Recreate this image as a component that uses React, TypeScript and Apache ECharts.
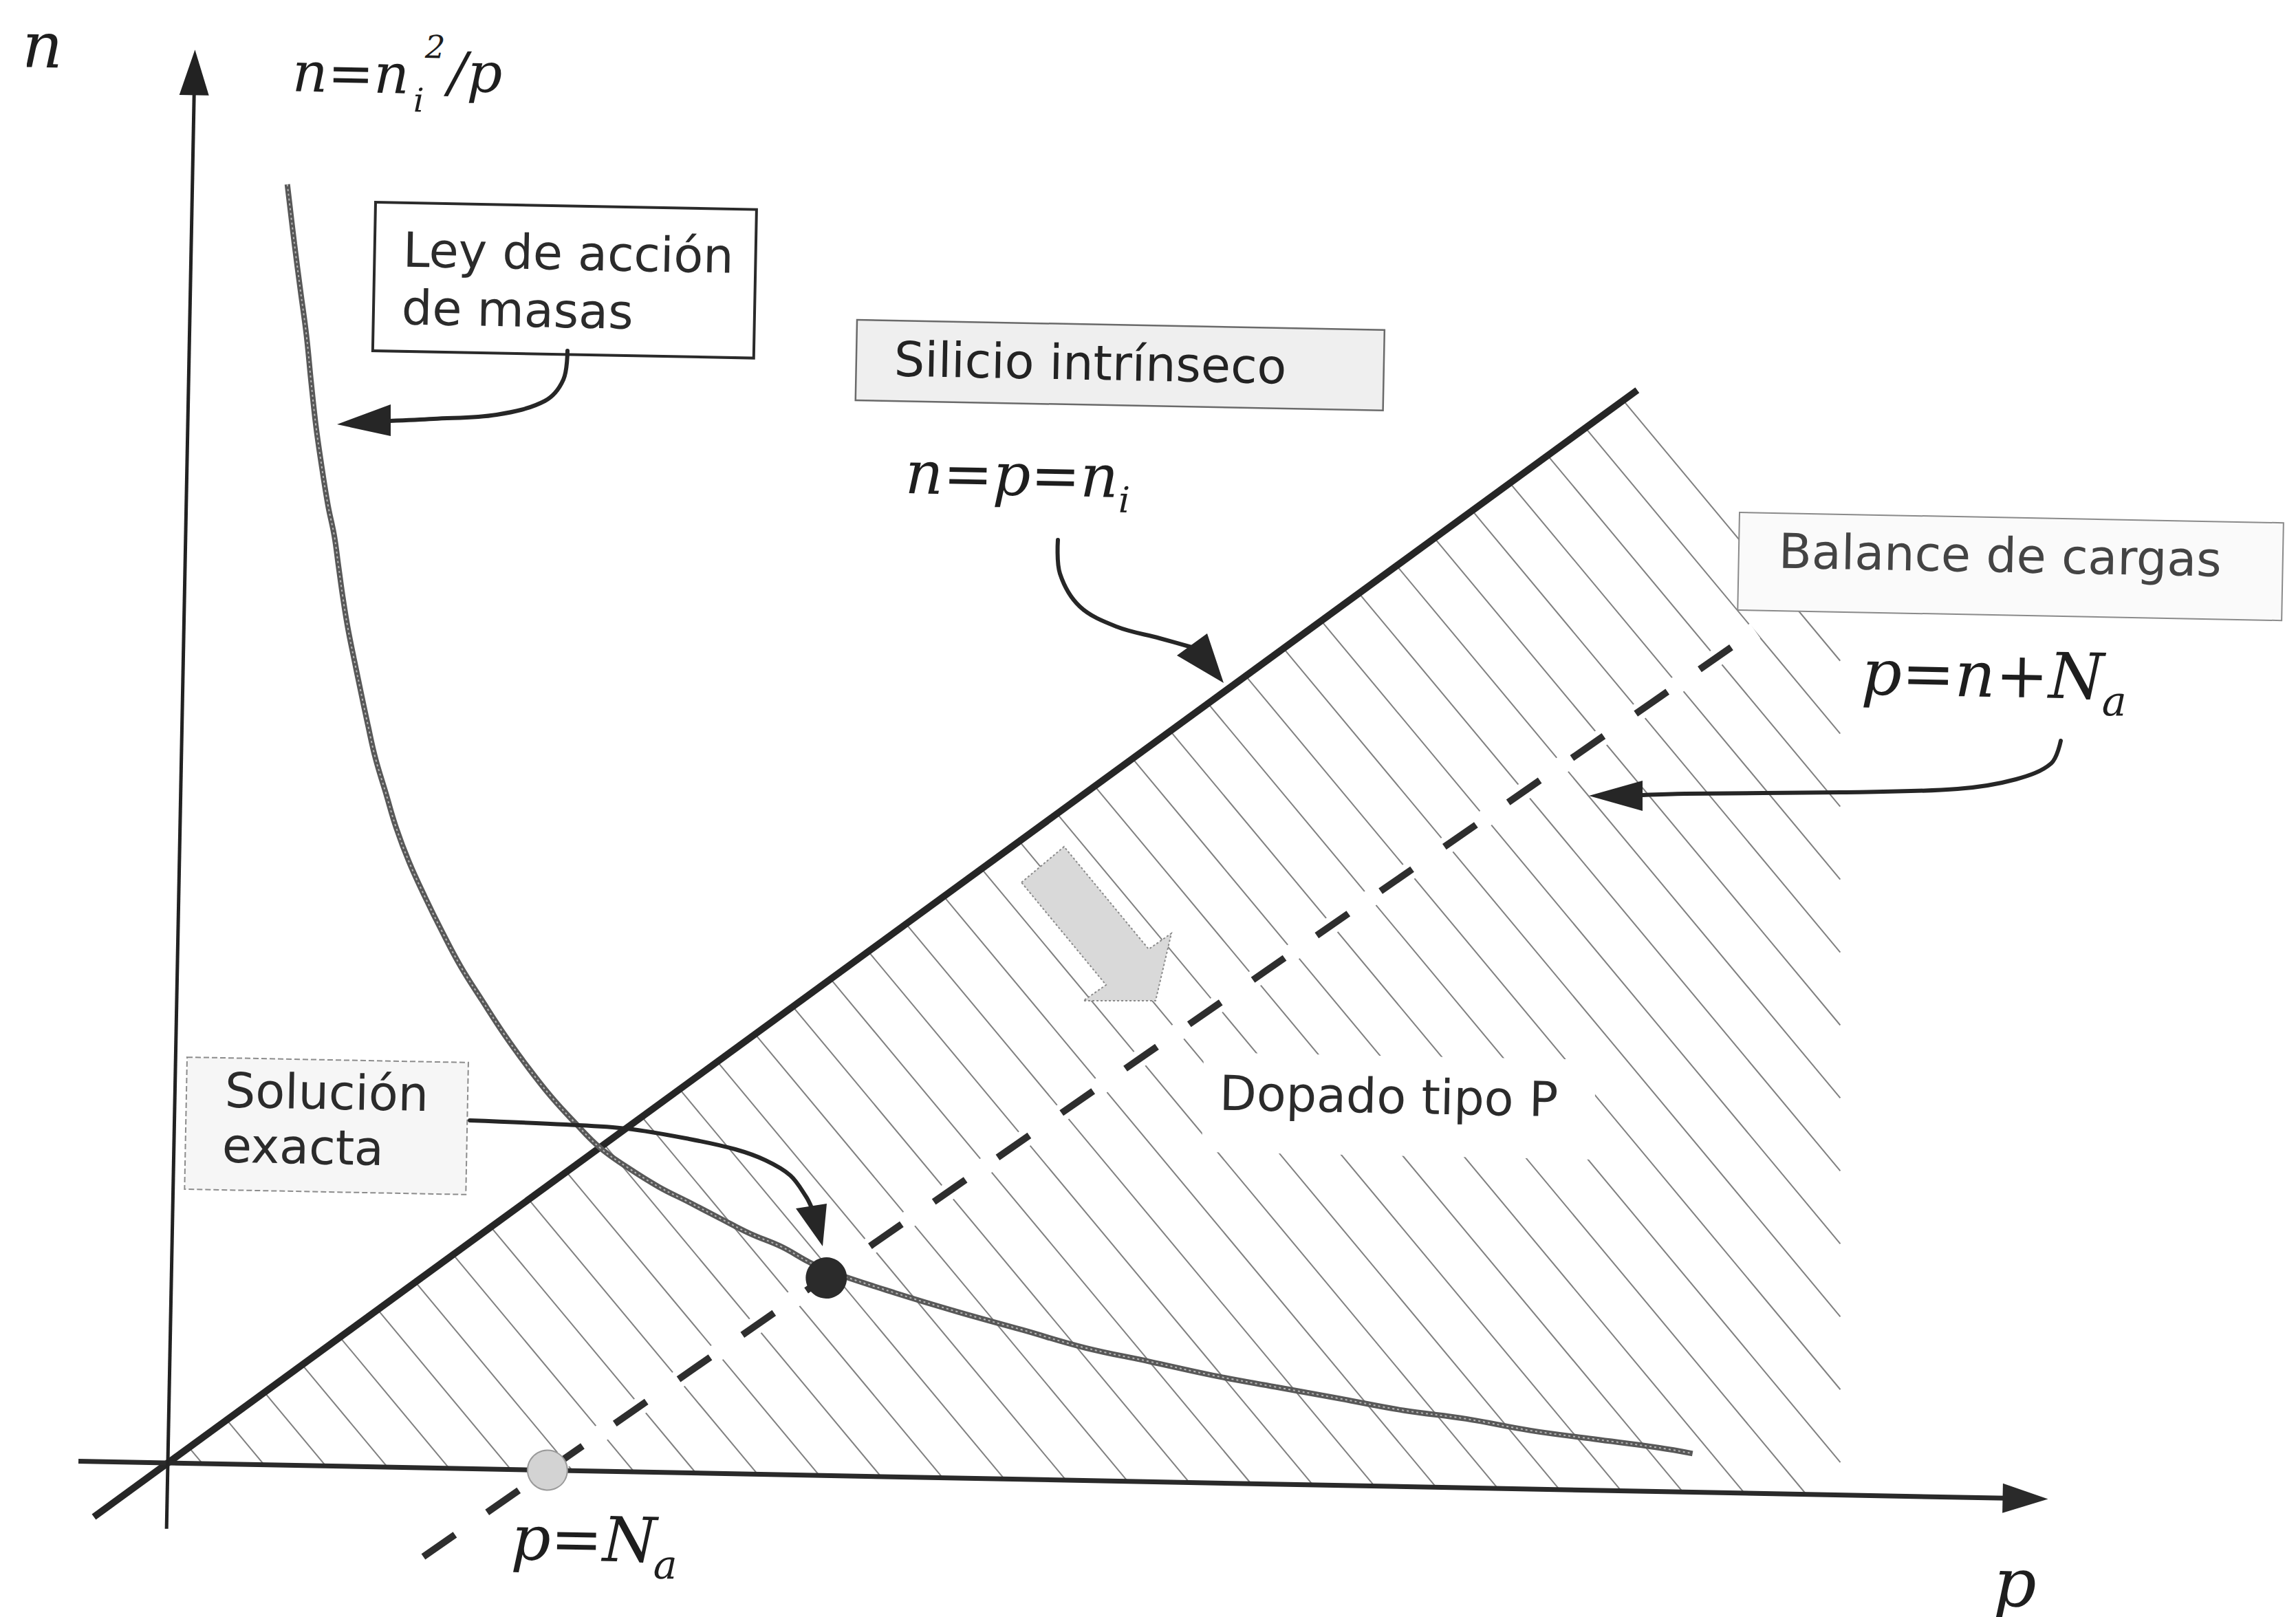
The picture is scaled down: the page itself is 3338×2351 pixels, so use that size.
import React, { useEffect, useRef } from 'react';
import * as echarts from 'echarts';

// ---- page and plane geometry -------------------------------------------
const W = 3338;
const H = 2351;
// where (p, n) = (0, 0) sits on the page, and how far the figure is turned
const OX = 244;
const OY = 2127;
const TILT_DEG = 1.1;
// pixels per unit on each axis (n = p runs at the drawn slope)
const PX_P = 200;
const PX_N = 152;
const X_MIN = -1.2;
const X_MAX = 15.4;
const Y_MIN = -1.4;
const Y_MAX = 13.9;

// ---- data ------------------------------------------------------------------
// mass-action law n = ni^2 / p
const MASS_ACTION_P = [
  0.69, 0.75, 0.8, 0.85, 0.89, 0.93, 0.97, 1.03, 1.08, 1.115, 1.15, 1.19, 1.24,
  1.29, 1.35, 1.41, 1.49, 1.57, 1.67, 1.79, 1.92, 2.06, 2.22, 2.38, 2.55, 2.73,
  2.91, 3.1, 3.3, 3.53, 3.75, 3.98, 4.2, 4.43, 4.63, 4.77, 5.26, 5.72, 6.19,
  6.65, 7.12, 7.58, 8.04, 8.51, 8.97, 9.43, 9.9, 10.36, 10.83, 11.08,
];
const MASS_ACTION_N = [
  12.25, 11.68, 11.24, 10.81, 10.37, 9.96, 9.63, 9.19, 8.9, 8.61, 8.32, 8.03,
  7.73, 7.44, 7.1, 6.78, 6.45, 6.12, 5.79, 5.46, 5.13, 4.8, 4.48, 4.17, 3.87,
  3.58, 3.33, 3.09, 2.91, 2.73, 2.59, 2.44, 2.3, 2.18, 2.04, 1.96, 1.76, 1.59,
  1.43, 1.27, 1.15, 1.03, 0.93, 0.83, 0.73, 0.66, 0.56, 0.49, 0.42, 0.37,
];
// intrinsic silicon n = p (end points on p)
const INTRINSIC_P = [-0.53, 10.53];
// charge balance p = n + Na (end points)
const BALANCE_P = [1.87, 11.42];
const BALANCE_N = [-0.85, 8.25];
// acceptor concentration: where the balance line meets n = 0
const NA = 2.76;
// exact solution: crossing of the mass-action curve and the balance line
const SOLUTION_P = 4.76;
const SOLUTION_N = 1.89;
// p-type doped region (hatched), corners
const DOPED_P = [0, 10.53, 12.04, 12.16];
const DOPED_N = [0, 10.53, 8.12, 0];
// axes extents: p from .. to (arrow tip), n from .. to (arrow tip)
const AXIS_P = [-0.65, 13.67];
const AXIS_N = [-0.63, 13.52];

// ---- styling constants -------------------------------------------------
const SANS = '"DejaVu Sans", Verdana, sans-serif';
const SERIF = '"DejaVu Serif", serif';
const INK = '#262626';
const ARROW_W = 43;
const ARROW_L = 66;
const HATCH_ANGLE = (49.1 * Math.PI) / 180;
const HATCH_GAP = 67.8;
const HATCH_ANCHOR = [0.7, 0];

const T = (TILT_DEG * Math.PI) / 180;
const COS = Math.cos(T);
const SIN = Math.sin(T);

// page point -> point inside the turned chart frame
function pg(x: number, y: number): [number, number] {
  const dx = x - OX;
  const dy = y - OY;
  return [OX + COS * dx + SIN * dy, OY - SIN * dx + COS * dy];
}

function label(
  x: number,
  base: number,
  text: string,
  size: number,
  family: string,
  italic: boolean,
  fill: string
) {
  const [px, py] = pg(x, base - 0.35 * size);
  return {
    type: 'text',
    x: px,
    y: py,
    z: 30,
    silent: true,
    style: {
      text,
      fontSize: size,
      fontFamily: family,
      fontStyle: italic ? 'italic' : 'normal',
      fill,
      align: 'left',
      verticalAlign: 'middle',
      textAlign: 'left',
      textVerticalAlign: 'middle',
    },
  };
}

function box(x1: number, y1: number, x2: number, y2: number, style: any, z = 20) {
  const [px, py] = pg(x1, y1);
  return {
    type: 'rect',
    x: px,
    y: py,
    z,
    silent: true,
    shape: { x: 0, y: 0, width: x2 - x1, height: y2 - y1 },
    style,
  };
}

function stroke(points: number[][], width = 6) {
  return {
    type: 'polyline',
    z: 25,
    silent: true,
    shape: { points: points.map(([x, y]) => pg(x, y)), smooth: 0.35 },
    style: { stroke: INK, lineWidth: width, fill: null, lineCap: 'round' },
  };
}

function shape(points: number[][], style: any, z = 25) {
  return {
    type: 'polygon',
    z,
    silent: true,
    shape: { points: points.map(([x, y]) => pg(x, y)) },
    style,
  };
}

// diagonal hatching clipped to the doped region
function renderHatch(_params: any, api: any) {
  const poly = DOPED_P.map((p, i) => api.coord([p, DOPED_N[i]]));
  const anchor = api.coord(HATCH_ANCHOR);
  const d = [Math.cos(HATCH_ANGLE), Math.sin(HATCH_ANGLE)];
  const nrm = [-d[1], d[0]];
  const children: any[] = [];
  for (let k = -90; k <= 90; k++) {
    const p0 = [anchor[0] + nrm[0] * k * HATCH_GAP, anchor[1] + nrm[1] * k * HATCH_GAP];
    const ts: number[] = [];
    for (let i = 0; i < poly.length; i++) {
      const a = poly[i];
      const b = poly[(i + 1) % poly.length];
      const e = [b[0] - a[0], b[1] - a[1]];
      const den = d[0] * e[1] - d[1] * e[0];
      if (Math.abs(den) < 1e-9) continue;
      const w = [a[0] - p0[0], a[1] - p0[1]];
      const t = (w[0] * e[1] - w[1] * e[0]) / den;
      const u = (w[0] * d[1] - w[1] * d[0]) / den;
      if (u >= -1e-9 && u <= 1 + 1e-9) ts.push(t);
    }
    if (ts.length < 2) continue;
    const t0 = Math.min(...ts);
    const t1 = Math.max(...ts);
    if (t1 - t0 < 2) continue;
    children.push({
      type: 'line',
      shape: {
        x1: p0[0] + d[0] * t0,
        y1: p0[1] + d[1] * t0,
        x2: p0[0] + d[0] * t1,
        y2: p0[1] + d[1] * t1,
      },
      style: { stroke: '#808080', lineWidth: 2 },
    });
  }
  return { type: 'group', children };
}

function buildOption() {
  const curve = MASS_ACTION_P.map((p, i) => [p, MASS_ACTION_N[i]]);
  const balance = BALANCE_P.map((p, i) => [p, BALANCE_N[i]]);
  const intrinsic = INTRINSIC_P.map((p) => [p, p]);
  const pArrow = AXIS_P[1] - ARROW_L / 2 / PX_P;
  const nArrow = AXIS_N[1] - ARROW_L / 2 / PX_N;

  const graphics: any[] = [
    // axis names
    label(32, 98, 'n', 92, SERIF, true, '#1e1e1e'),
    label(2898, 2335, 'p', 98, SERIF, true, '#1e1e1e'),

    // n = ni^2 / p
    label(425, 133, 'n=n', 80, SERIF, true, '#1e1e1e'),
    label(601, 162, 'i', 48, SERIF, true, '#1e1e1e'),
    label(618, 84, '2', 46, SERIF, true, '#1e1e1e'),
    label(652, 133, '/p', 80, SERIF, true, '#1e1e1e'),

    // mass-action box and its pointer
    box(546, 294, 1100, 510, { fill: '#ffffff', stroke: '#2a2a2a', lineWidth: 4 }),
    label(586, 388, 'Ley de acción', 70, SANS, false, '#2b2b2b'),
    label(584, 472, 'de masas', 70, SANS, false, '#2b2b2b'),
    stroke([[825, 510], [819, 552], [792, 583], [722, 603], [630, 609], [566, 612]]),
    shape([[490, 617], [568, 588], [568, 634]], { fill: INK }),

    // intrinsic silicon
    box(1246, 465, 2013, 582, { fill: '#efefef', stroke: '#6a6a6a', lineWidth: 2.5 }),
    label(1300, 547, 'Silicio intrínseco', 70, SANS, false, '#232323'),
    label(1316, 717, 'n=p=n', 86, SERIF, true, '#1e1e1e'),
    label(1626, 745, 'i', 52, SERIF, true, '#1e1e1e'),
    stroke([[1538, 785], [1541, 834], [1570, 882], [1623, 911], [1686, 928], [1736, 942]]),
    shape([[1779, 993], [1711, 953], [1755, 921]], { fill: INK }),

    // charge balance
    box(2529, 745, 3320, 887, { fill: '#fafafa', stroke: '#8a8a8a', lineWidth: 2 }),
    label(2586, 826, 'Balance de cargas', 70, SANS, false, '#444444'),
    label(2706, 1010, 'p=n+N', 92, SERIF, true, '#1e1e1e'),
    label(3056, 1040, 'a', 60, SERIF, true, '#1e1e1e'),
    stroke([[2996, 1077], [2982, 1110], [2931, 1133], [2846, 1147], [2676, 1152], [2450, 1154], [2388, 1156]]),
    shape([[2310, 1157], [2388, 1135], [2388, 1179]], { fill: INK }),

    // p-type doping
    box(1750, 1530, 2320, 1675, { fill: '#ffffff' }, 12),
    label(1773, 1614, 'Dopado tipo P', 70, SANS, false, '#2b2b2b'),
    shape(
      [[1485, 1283], [1547, 1231], [1670, 1380], [1703, 1357], [1680, 1455], [1575, 1455], [1608, 1432]],
      { fill: '#d9d9d9', stroke: '#8a8a8a', lineWidth: 2, lineDash: [3, 3] },
      14
    ),

    // exact solution
    box(272, 1537, 681, 1729, { fill: '#f6f6f6', stroke: '#8c8c8c', lineWidth: 2, lineDash: [8, 4] }),
    label(327, 1610, 'Solución', 70, SANS, false, '#2b2b2b'),
    label(323, 1690, 'exacta', 70, SANS, false, '#2b2b2b'),
    stroke([[683, 1629], [823, 1635], [912, 1641], [1002, 1656], [1069, 1671], [1113, 1687], [1149, 1709], [1172, 1740], [1180, 1756]]),
    shape([[1196, 1812], [1157, 1757], [1202, 1750]], { fill: INK }),

    // p = Na
    label(743, 2267, 'p=N', 90, SERIF, true, '#1e1e1e'),
    label(950, 2295, 'a', 58, SERIF, true, '#1e1e1e'),
  ];

  return {
    animation: false,
    backgroundColor: 'transparent',
    grid: {
      left: OX + X_MIN * PX_P,
      top: OY - Y_MAX * PX_N,
      width: (X_MAX - X_MIN) * PX_P,
      height: (Y_MAX - Y_MIN) * PX_N,
    },
    xAxis: { type: 'value', min: X_MIN, max: X_MAX, show: false },
    yAxis: { type: 'value', min: Y_MIN, max: Y_MAX, show: false },
    series: [
      {
        type: 'custom',
        name: 'Dopado tipo P',
        coordinateSystem: 'cartesian2d',
        renderItem: renderHatch,
        data: [[0, 0]],
        clip: false,
        silent: true,
        z: 1,
      },
      {
        // clear band that the balance line cuts through the hatching
        type: 'line',
        data: balance,
        symbol: 'none',
        silent: true,
        lineStyle: { color: '#ffffff', width: 26 },
        z: 2,
      },
      {
        type: 'line',
        name: 'n=p',
        data: intrinsic,
        symbol: 'none',
        silent: true,
        lineStyle: { color: INK, width: 10 },
        z: 3,
      },
      {
        type: 'line',
        name: 'p=n+Na',
        data: balance,
        symbol: 'none',
        silent: true,
        lineStyle: { color: '#2e2e2e', width: 10, type: [56, 57], cap: 'butt' },
        z: 4,
      },
      {
        type: 'line',
        name: 'n=ni²/p',
        data: curve,
        smooth: 0.4,
        symbol: 'none',
        silent: true,
        lineStyle: { color: '#585858', width: 8 },
        z: 5,
      },
      {
        type: 'line',
        data: curve,
        smooth: 0.4,
        symbol: 'none',
        silent: true,
        lineStyle: { color: '#b4b4b4', width: 2, type: [3, 4] },
        z: 5,
      },
      {
        type: 'line',
        name: 'p',
        data: [[AXIS_P[0], 0], [pArrow, 0]],
        symbol: 'none',
        silent: true,
        lineStyle: { color: '#2a2a2a', width: 7 },
        z: 6,
      },
      {
        type: 'line',
        name: 'n',
        data: [[0, AXIS_N[0]], [0, nArrow]],
        symbol: 'none',
        silent: true,
        lineStyle: { color: '#222222', width: 5 },
        z: 6,
      },
      {
        type: 'scatter',
        data: [[pArrow, 0]],
        symbol: 'triangle',
        symbolSize: [ARROW_W, ARROW_L],
        symbolRotate: -90,
        silent: true,
        itemStyle: { color: '#2a2a2a', opacity: 1 },
        z: 6,
      },
      {
        type: 'scatter',
        data: [[0, nArrow]],
        symbol: 'triangle',
        symbolSize: [ARROW_W, ARROW_L],
        silent: true,
        itemStyle: { color: '#222222', opacity: 1 },
        z: 6,
      },
      {
        type: 'scatter',
        name: 'p=Na',
        data: [[NA, 0]],
        symbolSize: 58,
        silent: true,
        itemStyle: { color: '#d3d3d3', borderColor: '#9a9a9a', borderWidth: 2, opacity: 1 },
        z: 7,
      },
      {
        type: 'scatter',
        name: 'Solución exacta',
        data: [[SOLUTION_P, SOLUTION_N]],
        symbolSize: 60,
        silent: true,
        itemStyle: { color: '#2b2b2b', opacity: 1 },
        z: 7,
      },
    ],
    graphic: { elements: graphics },
  };
}

export default function App() {
  const ref = useRef<HTMLDivElement>(null);
  useEffect(() => {
    const el = ref.current;
    if (!el) return;
    const chart = echarts.init(el, null, { renderer: 'svg' });
    chart.setOption(buildOption() as any);
    return () => chart.dispose();
  }, []);
  return (
    <div
      style={{
        position: 'fixed',
        left: 0,
        top: 0,
        width: W,
        height: H,
        overflow: 'hidden',
        background: '#ffffff',
      }}
    >
      <div
        ref={ref}
        style={{
          width: W,
          height: H,
          transform: `rotate(${TILT_DEG}deg)`,
          transformOrigin: `${OX}px ${OY}px`,
        }}
      />
    </div>
  );
}
